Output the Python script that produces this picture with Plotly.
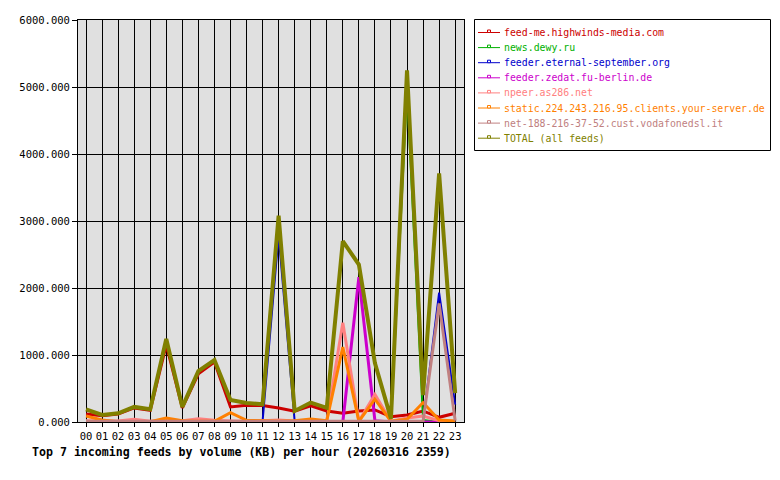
import plotly.graph_objects as go

hours = ["%02d" % h for h in range(24)]

feed_names = [
    "feed-me.highwinds-media.com",
    "news.dewy.ru",
    "feeder.eternal-september.org",
    "feeder.zedat.fu-berlin.de",
    "npeer.as286.net",
    "static.224.243.216.95.clients.your-server.de",
    "net-188-216-37-52.cust.vodafonedsl.it",
    "TOTAL (all feeds)",
]

highwinds = [120, 95, 120, 210, 175, 1150, 210, 720, 895, 225, 250, 245, 210, 160, 240, 165, 130, 165, 180, 80, 105, 165, 70, 130]
dewy = [0, 0, 0, 0, 0, 0, 0, 0, 0, 0, 0, 0, 0, 0, 0, 0, 0, 0, 0, 0, 4950, 30, 0, 0]
eternal = [0, 0, 0, 0, 0, 0, 0, 0, 0, 0, 0, 10, 2790, 10, 0, 0, 0, 0, 0, 0, 0, 0, 1930, 260]
zedat = [0, 0, 0, 0, 0, 0, 0, 0, 0, 0, 0, 0, 0, 0, 0, 0, 0, 2160, 20, 0, 0, 0, 0, 0]
npeer = [20, 15, 15, 40, 10, 20, 20, 50, 25, 15, 10, 20, 30, 15, 20, 10, 1480, 10, 410, 10, 60, 90, 20, 10]
yourserver = [90, 30, 5, 5, 5, 60, 20, 10, 10, 140, 25, 20, 10, 20, 45, 20, 1120, 10, 340, 10, 40, 290, 30, 15]
vodafone = [10, 10, 10, 10, 10, 10, 10, 10, 10, 10, 10, 10, 10, 10, 10, 10, 10, 10, 10, 10, 10, 10, 1770, 20]
total = [190, 105, 130, 225, 190, 1240, 225, 760, 925, 330, 285, 265, 3080, 165, 290, 210, 2700, 2350, 880, 50, 5250, 400, 3710, 430]

series = [highwinds, dewy, eternal, zedat, npeer, yourserver, vodafone, total]
colors = ["#cc0000", "#00b000", "#0000cc", "#cc00cc", "#ff8080", "#ff8000", "#c08080", "#808000"]
widths = [3, 2, 2, 3, 3, 3, 3, 4]

MONO = "DejaVu Sans Mono, Liberation Mono, monospace"

# plot area in pixels
L, R, T, B = 78, 464, 20, 422
W, H = R - L, B - T


def px(x):
    return (x - L) / W


def py(y):
    return (B - y) / H


fig = go.Figure()
xs = list(range(24))
for name, vals, c, w in zip(feed_names, series, colors, widths):
    fig.add_trace(go.Scatter(x=xs, y=vals, mode="lines", line=dict(color=c, width=w),
                             name=name, showlegend=False, hoverinfo="skip"))

shapes = []
annotations = []
# legend box
shapes.append(dict(type="rect", xref="paper", yref="paper",
                   x0=px(474.5), x1=px(770.5), y0=py(150.5), y1=py(19.5),
                   line=dict(color="black", width=1), fillcolor="white", layer="above"))
for i, (name, c) in enumerate(zip(feed_names, colors)):
    yy = 32.5 + i * 15.1
    shapes.append(dict(type="line", xref="paper", yref="paper",
                       x0=px(478), x1=px(500), y0=py(yy), y1=py(yy),
                       line=dict(color=c, width=1), layer="above"))
    shapes.append(dict(type="rect", xref="paper", yref="paper",
                       x0=px(487.5), x1=px(490.5), y0=py(yy), y1=py(yy - 2.5),
                       line=dict(color=c, width=1), fillcolor="white", layer="above"))
    annotations.append(dict(text=name, xref="paper", yref="paper", x=px(501.5), y=py(yy),
                            xanchor="left", yanchor="middle", showarrow=False,
                            font=dict(family=MONO, size=9.85, color=c)))

annotations.append(dict(text="<b>Top 7 incoming feeds by volume (KB) per hour (20260316 2359)</b>",
                        xref="paper", yref="paper", x=px(241.5), y=py(452),
                        xanchor="center", yanchor="middle", showarrow=False,
                        font=dict(family=MONO, size=11.6, color="black")))

fig.update_layout(
    width=780, height=480,
    margin=dict(l=L, r=780 - R, t=T, b=480 - B, autoexpand=False),
    paper_bgcolor="white", plot_bgcolor="#e0e0e0",
    font=dict(family=MONO, size=10, color="black"),
    showlegend=False,
    shapes=shapes,
    annotations=annotations,
)
fig.update_xaxes(range=[-0.5, 23.55], tickvals=xs, ticktext=hours, showgrid=True,
                 gridcolor="black", gridwidth=1, showline=True, linecolor="black",
                 linewidth=1, mirror=True, ticks="outside", ticklen=4, tickcolor="black",
                 zeroline=False, tickfont=dict(family=MONO, size=10.5))
fig.update_yaxes(range=[0, 6000], dtick=1000, tickformat=".3f", showgrid=True,
                 gridcolor="black", gridwidth=1, showline=True, linecolor="black",
                 linewidth=1, mirror=True, ticks="outside", ticklen=5, tickcolor="black",
                 zeroline=False, tickfont=dict(family=MONO, size=10.5))

fig.write_html("out.html")
